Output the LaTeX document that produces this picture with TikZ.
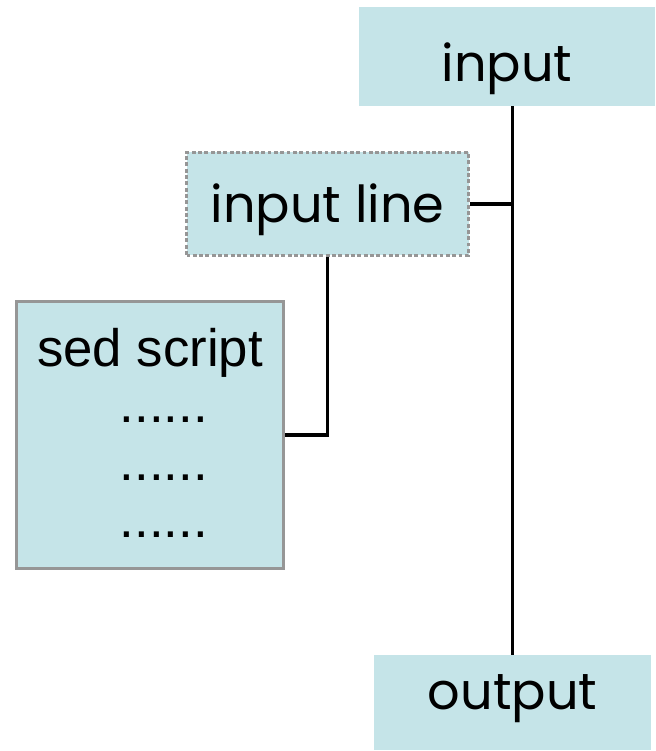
\documentclass[tikz,border=0pt]{standalone}
\usepackage{fontspec}
\setmainfont{Poppins}
\newfontfamily\arialfont{Liberation Sans}
\usetikzlibrary{positioning,calc}

\begin{document}
\begin{tikzpicture}[
        flowbox/.style={rectangle, fill=sedblue, inner sep=0pt, align=center, font=\fontsize{29}{32}\selectfont},
        wire/.style={line width=1.9pt, black}
    ]
        \definecolor{sedblue}{RGB}{197,228,232}
        \definecolor{sedgray}{RGB}{150,150,150}
        \useasboundingbox (0,0) rectangle (13.1,-15.02);

        % boxes placed at pixel positions of the original (0.02cm per px)
        \node[flowbox, minimum width=5.92cm, minimum height=1.98cm] (input) at (10.14,-1.13) {\raisebox{-6.8pt}[\height][\depth]{input}};
        \node[flowbox, draw=sedgray, line width=1.4pt, dash pattern=on 2.2pt off 1.4pt, minimum width=5.64cm, minimum height=2.06cm] (inline) at (6.55,-4.08) {\raisebox{-3.4pt}[\height][\depth]{input line}};
        \node[flowbox, draw=sedgray, line width=1.6pt, minimum width=5.34cm, minimum height=5.34cm, font=\arialfont\fontsize{30}{32.5}\selectfont] (script) at (3.0,-8.70) {\raisebox{2.5pt}[\height][\depth]{sed script}\\[-3pt]\hspace*{0.55cm}......\\\hspace*{0.55cm}......\\\hspace*{0.55cm}......};
        \node[flowbox, minimum width=5.54cm, minimum height=1.90cm] (output) at (10.25,-14.05) {\raisebox{2.3pt}[\height][\depth]{output}};

        % connectors
        \coordinate (top) at (output.north |- input.south);
        \coordinate (join) at (output.north |- inline.east);
        \coordinate (bend) at (inline.south |- script.east);
        \draw[wire] (top) -- (output.north);
        \draw[wire] (inline.east) -- (join);
        \draw[wire] (inline.south) -- (bend) -- (script.east);
    \end{tikzpicture}
\end{document}
